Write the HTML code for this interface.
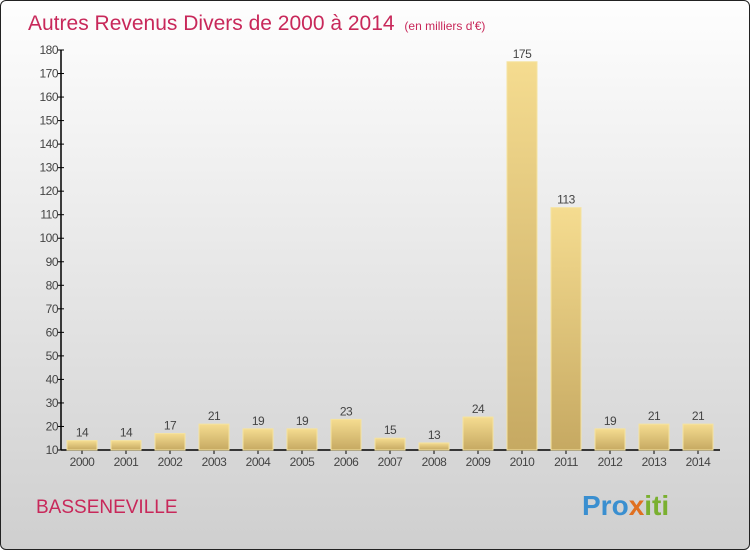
<!DOCTYPE html>
<html><head><meta charset="utf-8"><style>
body{margin:0;width:750px;height:550px;overflow:hidden;font-family:"Liberation Sans",sans-serif}
#frame{position:absolute;left:0;top:0;width:748px;height:548px;border:1px solid #222;border-radius:6px;background:linear-gradient(#fefefe,#cfcfcf)}
</style></head><body>
<div id="frame"></div>
<svg id="chart" width="750" height="550" style="position:absolute;left:0;top:0">
<defs><linearGradient id="bg" x1="0" y1="0" x2="0" y2="1"><stop offset="0" stop-color="#f5dc90"/><stop offset="1" stop-color="#c6a962"/></linearGradient></defs>
<text x="28" y="30" font-size="21" fill="#c8285a">Autres Revenus Divers de 2000 à 2014 <tspan font-size="12" dx="4">(en milliers d'€)</tspan></text>
<text x="36" y="513" font-size="19" fill="#c8285a">BASSENEVILLE</text>
<text x="582" y="515" font-size="28" font-weight="bold" fill="#3a8fd0">Pro<tspan fill="#e07020">x</tspan><tspan fill="#7ab030">iti</tspan></text>
<g id="axes"></g><g id="bars"></g>
</svg>
<script>
const years=["2000","2001","2002","2003","2004","2005","2006","2007","2008","2009","2010","2011","2012","2013","2014"];
const values=[14,14,17,21,19,19,23,15,13,24,175,113,19,21,21];
const yTicks=[10,20,30,40,50,60,70,80,90,100,110,120,130,140,150,160,170,180];
const NS="http://www.w3.org/2000/svg";
const yMin=10,yMax=180,y0=450,y1=50;
function ys(v){return y0-(v-yMin)/(yMax-yMin)*(y0-y1);}
function xs(i){return 82+i*44;}
function mk(tag,attrs,parent,txt){const e=document.createElementNS(NS,tag);for(const k in attrs)e.setAttribute(k,attrs[k]);if(txt!==undefined)e.textContent=txt;parent.appendChild(e);return e;}
const ax=document.getElementById('axes'),bg=document.getElementById('bars');
let l=mk('line',{x1:61,y1:y1,x2:61,y2:y0,stroke:'#000','stroke-width':1.5},ax);


l=mk('line',{x1:61,y1:y0,x2:720,y2:y0,stroke:'#000','stroke-width':1.5},ax);


yTicks.forEach(t=>{const y=ys(t);
 mk('line',{x1:58,y1:y,x2:64,y2:y,stroke:'#000'},ax);
 const tx=mk('text',{x:58,y:y+4,'font-size':12,fill:'#444','text-anchor':'end','letter-spacing':'-0.5'},ax,t);
 
 
});
years.forEach((yr,i)=>{const x=xs(i),v=values[i],y=ys(v);
 const r=mk('rect',{x:x-15,y:y,width:30,height:y0-y,fill:'url(#bg)',stroke:'#f5e3a0','stroke-width':1},bg);
 
 
 const vl=mk('text',{x:x,y:y-4,'font-size':12,fill:'#444','text-anchor':'middle','letter-spacing':'-0.5'},bg,v);
 
 
 mk('line',{x1:x,y1:y0,x2:x,y2:y0+4,stroke:'#000'},ax);
 const xl=mk('text',{x:x,y:466,'font-size':12,fill:'#444','text-anchor':'middle','letter-spacing':'-0.5'},ax,yr);
 
 
});
</script>
</body></html>
